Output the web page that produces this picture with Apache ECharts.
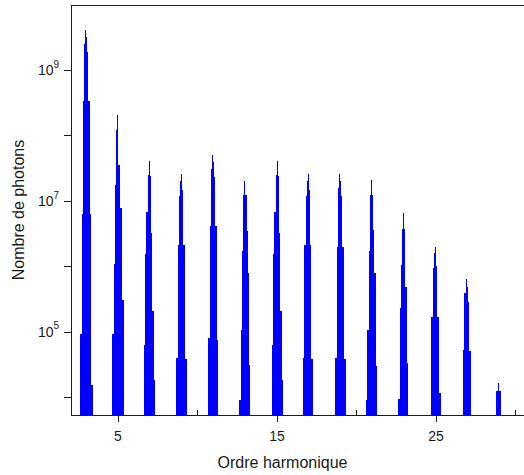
<!DOCTYPE html>
<html><head><meta charset="utf-8">
<script src="https://cdn.jsdelivr.net/npm/echarts@6/dist/echarts.min.js"></script>
<style>html,body{margin:0;padding:0;background:#fff}#c{width:524px;height:475px}#c svg path{shape-rendering:crispEdges}</style>
</head><body><div id="c"></div>
<script>
// Harmonic orders (peak centres) and the per-bin offsets (in bins) of each peak
const harmonics = [3, 5, 7, 9, 11, 13, 15, 17, 19, 21, 23, 25, 27, 29];
const binOffsets = [-7, -6, -5, -4, -3, -2, -1, 0, 1, 2, 3, 4, 5, 6];
const binWidth = 1 / 15.9; // harmonic-order width of one spectral bin

// Photon counts per bin for each harmonic (null = empty bin)
const h3  = [null, 9.1e4, 9.1e4, 6.3e6, 3.4e8, 2.5e9, 4.2e9, 3.2e9, 1.9e9, 3.4e8, 3.4e8, 6.3e6, 1.55e4, 1.55e4];
const h5  = [null, 9.1e4, 9.1e4, 1.1e6, 1.74e7, 1.23e8, 2.1e8, 3.6e7, 3.6e7, 7.9e6, 7.9e6, 3.1e5, 3.1e5, null];
const h7  = [null, null, 6.3e4, 1.55e6, 6.9e6, 6.9e6, 2.5e7, 4.1e7, 2.45e7, 3.2e6, 2.1e5, 2.1e5, 1.8e4, null];
const h9  = [null, null, 4.0e4, 4.0e4, 2.1e6, 1.2e7, 2.0e7, 2.6e7, 1.48e7, 2.1e6, 2.1e6, 3.8e4, 3.8e4, null];
const h11 = [null, null, 7.9e4, 7.9e4, 4.1e6, 3.1e7, 5.1e7, 4.0e7, 2.3e7, 4.1e6, 4.1e6, 7.6e4, null, null];
const h13 = [null, 9.1e3, 9.1e3, 1.07e5, 1.7e6, 1.26e7, 2.0e7, 1.26e7, 1.26e7, 3.5e6, 7.9e5, 3.1e4, null, null];
const h15 = [null, null, 6.3e4, 1.55e6, 6.9e6, 6.9e6, 2.5e7, 4.1e7, 2.45e7, 3.2e6, 2.1e5, 2.1e5, 1.8e4, null];
const h17 = [null, null, 4.0e4, 2.1e6, 2.1e6, 1.2e7, 2.0e7, 2.6e7, 1.48e7, 2.1e6, 3.8e4, 3.8e4, null, null];
const h19 = [null, null, 4.0e4, 4.0e4, 2.0e6, 1.58e7, 2.6e7, 2.0e7, 1.2e7, 2.0e6, 2.0e6, 3.8e4, 3.8e4, null];
const h21 = [null, 9.1e3, 1.07e5, 1.07e5, 1.7e6, 1.26e7, 2.1e7, 1.26e7, 3.6e6, 7.9e5, 7.9e5, 3.0e4, null, null];
const h23 = [null, 9.3e3, 9.3e3, 2.3e5, 1.05e6, 3.7e6, 6.5e6, 3.7e6, 4.9e5, 4.9e5, 3.3e4, null, null, null];
const h25 = [null, null, 1.7e5, 1.7e5, 9.3e5, 1.58e6, 2.0e6, 1.0e6, 1.7e5, 1.7e5, 1.15e4, 1.15e4, null, null];
const h27 = [null, null, null, 5.2e4, 3.9e5, 3.9e5, 6.5e5, 4.9e5, 2.9e5, 5.0e4, 5.0e4, null, null, null];
const h29 = [null, null, null, null, 1.26e4, 1.26e4, 1.66e4, 1.26e4, 1.26e4, null, null, null, null, null];
const peakValues = [h3, h5, h7, h9, h11, h13, h15, h17, h19, h21, h23, h25, h27, h29];

// Axis ticks and labels
const xLabelValues = [5, 15, 25];
const xInnerTickValues = [10, 20, 30];
const yTickValues = [1e4, 1e5, 1e6, 1e7, 1e8, 1e9];
const yLabelValues = [1e5, 1e7, 1e9];
const xRange = [2.044, 30.53];
const yRange = [5333, 1e10];

// Build histogram outline data: each bin contributes its left and right corner,
// one segment per harmonic, separated by a null point
const data = [];
harmonics.forEach((q, i) => {
  let lastX = null;
  peakValues[i].forEach((v, j) => {
    if (v == null) return;
    const x0 = q + (binOffsets[j] - 0.5) * binWidth;
    const x1 = q + (binOffsets[j] + 0.5) * binWidth;
    data.push([x0, v]);
    data.push([x1, v]);
    lastX = x1;
  });
  data.push([lastX, null]);
});

const FONT = 'Liberation Sans, Arial, sans-serif';
const AX = '#1e1e1e';
const chart = echarts.init(document.getElementById('c'), null, {renderer: 'svg'});
chart.setOption({
  animation: false,
  backgroundColor: '#fff',
  grid: {left: 71, right: 0, top: 5, bottom: 60, outerBoundsMode: 'none'},
  xAxis: [
    {
      type: 'value', min: xRange[0], max: xRange[1], position: 'bottom',
      axisLine: {lineStyle: {color: AX, width: 1}},
      axisTick: {show: true, customValues: xLabelValues, length: 7, lineStyle: {color: AX}},
      axisLabel: {customValues: xLabelValues, fontSize: 14, fontFamily: FONT, color: '#1a1a1a', margin: 14},
      splitLine: {show: false},
      name: 'Ordre harmonique', nameLocation: 'middle', nameGap: 39,
      nameTextStyle: {fontSize: 16, fontFamily: FONT, color: '#1a1a1a', padding: [0, 30, 0, 0]}
    },
    {
      type: 'value', min: xRange[0], max: xRange[1], position: 'bottom',
      axisLine: {show: false},
      axisTick: {show: true, inside: true, customValues: xInnerTickValues, length: 5, lineStyle: {color: AX}},
      axisLabel: {show: false}, splitLine: {show: false}
    },
    {
      type: 'value', min: xRange[0], max: xRange[1], position: 'top',
      axisLine: {show: true, lineStyle: {color: AX, width: 1}},
      axisTick: {show: false}, axisLabel: {show: false}, splitLine: {show: false}
    }
  ],
  yAxis: {
    type: 'log', logBase: 10, min: yRange[0], max: yRange[1],
    axisLine: {show: true, lineStyle: {color: AX, width: 1}},
    axisTick: {show: true, customValues: yTickValues, length: 7, lineStyle: {color: AX}},
    axisLabel: {
      customValues: yLabelValues, margin: 12,
      formatter: v => '{b|10}{e|' + Math.round(Math.log10(v)) + '}',
      rich: {
        b: {fontSize: 14, fontFamily: FONT, color: '#1a1a1a'},
        e: {fontSize: 10, fontFamily: FONT, color: '#1a1a1a', padding: [0, 0, 12, 0]}
      }
    },
    splitLine: {show: false},
    name: 'Nombre de photons', nameLocation: 'middle', nameGap: 45, nameRotate: 90,
    nameTextStyle: {fontSize: 16, fontFamily: FONT, color: '#1a1a1a'}
  },
  series: [{
    type: 'line', xAxisIndex: 0, yAxisIndex: 0,
    data: data, showSymbol: false, symbol: 'none',
    connectNulls: false,
    lineStyle: {width: 0, opacity: 0},
    areaStyle: {color: '#0000ff', opacity: 1},
    silent: true
  }]
});
</script></body></html>
